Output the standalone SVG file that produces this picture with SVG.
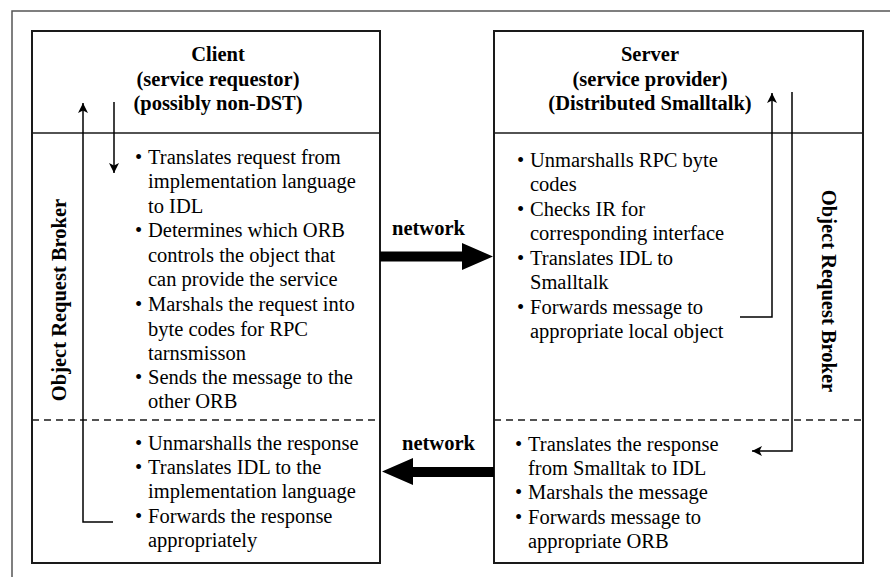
<svg xmlns="http://www.w3.org/2000/svg" width="890" height="577" viewBox="0 0 890 577">
  <defs>
    <style>
      .frame { fill: none; stroke: #555; stroke-width: 1.5; }
      .box { fill: #fff; stroke: #1a1a1a; stroke-width: 2; }
      .rule { stroke: #1a1a1a; stroke-width: 1.5; }
      .dash { stroke: #1a1a1a; stroke-width: 1.5; stroke-dasharray: 7 5; }
      .hd { font-family: "Liberation Serif", "Times New Roman", serif; font-size: 20.5px; font-weight: bold; fill: #000; text-anchor: middle; }
      .tx { font-family: "Liberation Serif", "Times New Roman", serif; font-size: 20.5px; fill: #000; }
      .lbl { font-family: "Liberation Serif", "Times New Roman", serif; font-size: 20.5px; font-weight: bold; fill: #000; }
      .flow { fill: none; stroke: #000; stroke-width: 1.5; }
      .thin { fill: none; stroke: #000; stroke-width: 1.5; }
    </style>
    <marker id="tip" viewBox="0 0 10 10" refX="10" refY="5" markerWidth="10" markerHeight="10" markerUnits="userSpaceOnUse" orient="auto">
      <path d="M0,0 L10,5 L0,10 L2.5,5 Z" fill="#000"/>
    </marker>
  </defs>

  <!-- outer frame (top and left edges) -->
  <path class="frame" d="M12,577 V11 H890"/>

  <!-- client node -->
  <g id="client">
    <rect class="box" x="32" y="31" width="348" height="532"/>
    <line class="rule" x1="32" y1="133" x2="380" y2="133"/>
    <line class="dash" x1="32" y1="420" x2="380" y2="420"/>
    <text class="hd" x="218" y="61">Client</text>
    <text class="hd" x="218" y="86">(service requestor)</text>
    <text class="hd" x="218" y="110">(possibly non-DST)</text>
    <g class="tx">
      <text x="135" y="164">•</text><text x="148" y="164">Translates request from</text>
      <text x="148" y="188">implementation language</text>
      <text x="148" y="213">to IDL</text>
      <text x="135" y="237">•</text><text x="148" y="237">Determines which ORB</text>
      <text x="148" y="262">controls the object that</text>
      <text x="148" y="286">can provide the service</text>
      <text x="135" y="311">•</text><text x="148" y="311">Marshals the request into</text>
      <text x="148" y="336">byte codes for RPC</text>
      <text x="148" y="360">tarnsmisson</text>
      <text x="135" y="384">•</text><text x="148" y="384">Sends the message to the</text>
      <text x="148" y="408">other ORB</text>
      <text x="135" y="450">•</text><text x="148" y="450">Unmarshalls the response</text>
      <text x="135" y="474">•</text><text x="148" y="474">Translates IDL to the</text>
      <text x="148" y="498">implementation language</text>
      <text x="135" y="523">•</text><text x="148" y="523">Forwards the response</text>
      <text x="148" y="547">appropriately</text>
    </g>
    <text class="lbl" text-anchor="middle" transform="translate(66,300) rotate(-90)">Object Request Broker</text>
  </g>

  <!-- server node -->
  <g id="server">
    <rect class="box" x="494" y="31" width="369" height="532"/>
    <line class="rule" x1="494" y1="133" x2="863" y2="133"/>
    <line class="dash" x1="494" y1="420" x2="863" y2="420"/>
    <text class="hd" x="650" y="61">Server</text>
    <text class="hd" x="650" y="86">(service provider)</text>
    <text class="hd" x="650" y="110">(Distributed Smalltalk)</text>
    <g class="tx">
      <text x="517" y="167">•</text><text x="530" y="167">Unmarshalls RPC byte</text>
      <text x="530" y="191">codes</text>
      <text x="517" y="216">•</text><text x="530" y="216">Checks IR for</text>
      <text x="530" y="240">corresponding interface</text>
      <text x="517" y="265">•</text><text x="530" y="265">Translates IDL to</text>
      <text x="530" y="289">Smalltalk</text>
      <text x="517" y="314">•</text><text x="530" y="314">Forwards message to</text>
      <text x="530" y="338">appropriate local object</text>
      <text x="515" y="451">•</text><text x="528" y="451">Translates the response</text>
      <text x="528" y="475">from Smalltak to IDL</text>
      <text x="515" y="499">•</text><text x="528" y="499">Marshals the message</text>
      <text x="515" y="524">•</text><text x="528" y="524">Forwards message to</text>
      <text x="528" y="548">appropriate ORB</text>
    </g>
    <text class="lbl" text-anchor="middle" transform="translate(822,291) rotate(90)">Object Request Broker</text>
  </g>

  <!-- connectors -->
  <g id="connectors">
    <!-- client ORB flow -->
    <line class="thin" x1="114" y1="102" x2="114" y2="173" marker-end="url(#tip)"/>
    <path class="thin" d="M113,522 H83 V103" marker-end="url(#tip)"/>
    <!-- server ORB flow -->
    <path class="thin" d="M740,317 H772 V93" marker-end="url(#tip)"/>
    <path class="thin" d="M792,92 V451 H752" marker-end="url(#tip)"/>
    <!-- network: request -->
    <text class="lbl" x="392" y="235">network</text>
    <path d="M380,251.5 H462 V243 L493,256.5 L462,270 V261.5 H380 Z" fill="#000"/>
    <!-- network: response -->
    <text class="lbl" x="402" y="450">network</text>
    <path d="M494,467 H413 V458 L382,471.5 L413,485 V477 H494 Z" fill="#000"/>
  </g>
</svg>
